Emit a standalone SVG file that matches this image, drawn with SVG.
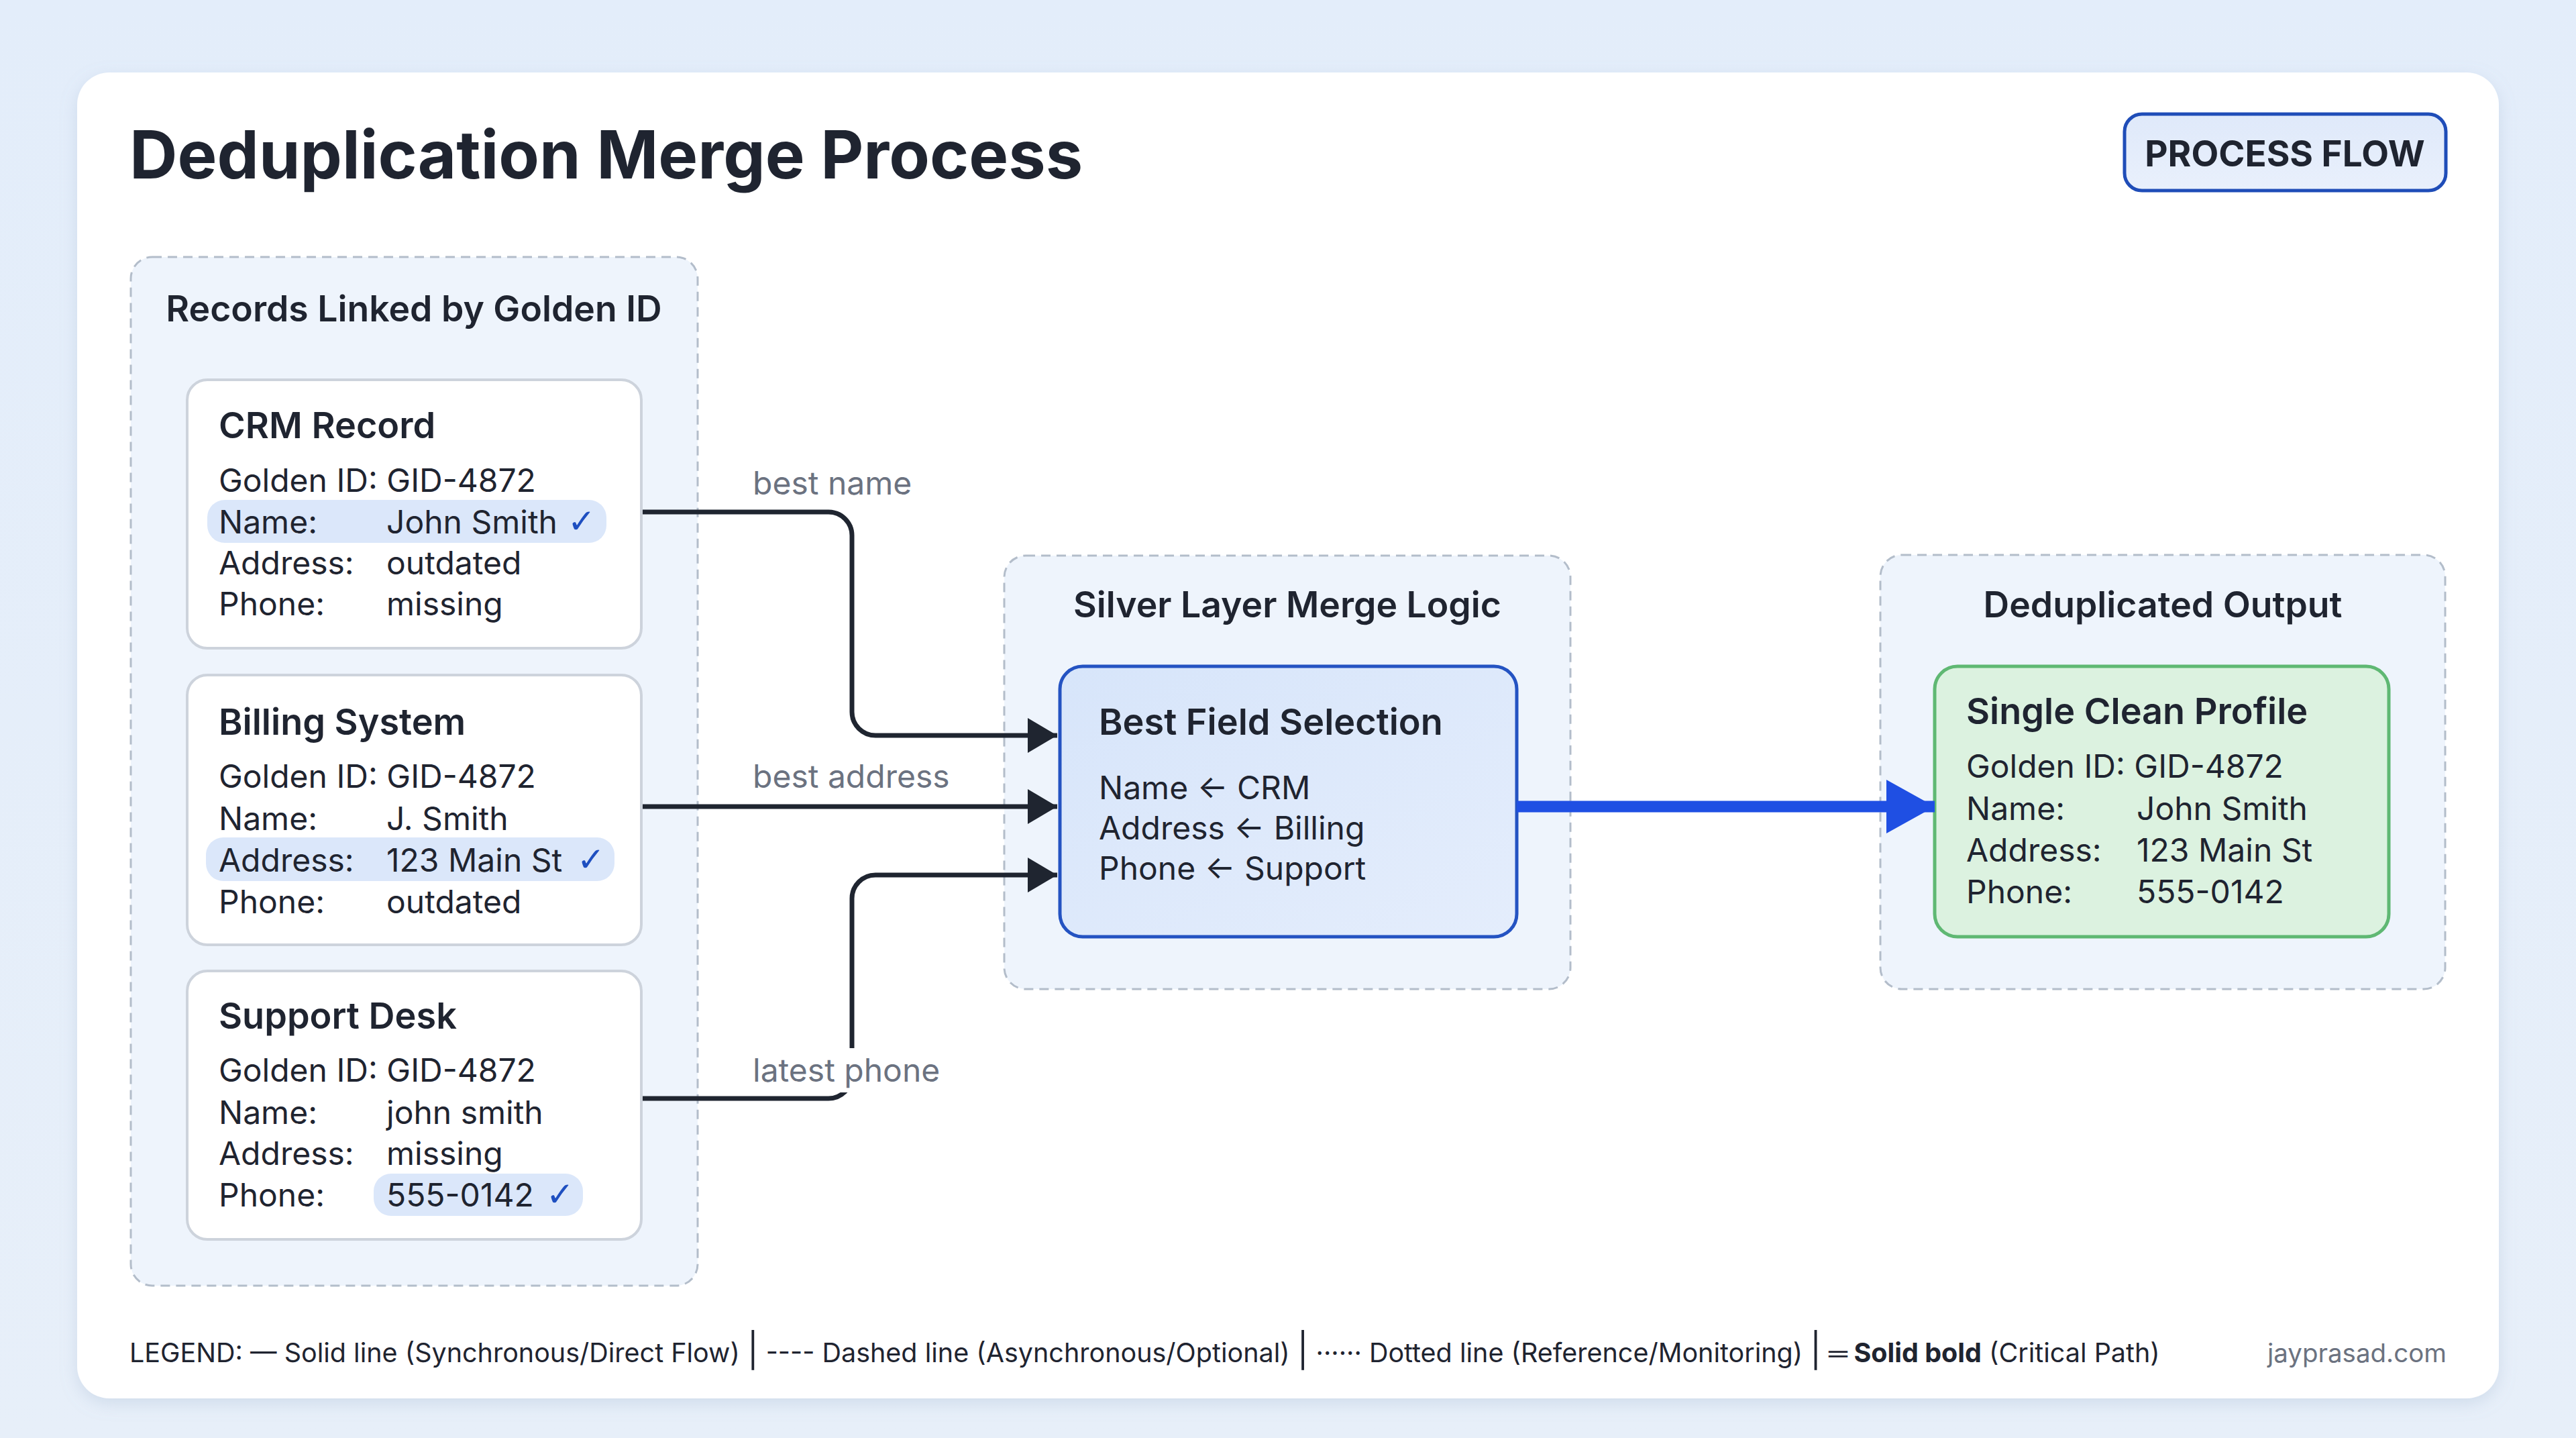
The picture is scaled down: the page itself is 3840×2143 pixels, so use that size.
<svg xmlns="http://www.w3.org/2000/svg" width="3840" height="2143" viewBox="0 0 3840 2143">
<defs>
<style>
text{font-family:Inter,"Noto Sans","Liberation Sans",sans-serif;fill:#1f2430}
.title{font-size:99px;font-weight:700}
.badge{font-size:53px;font-weight:700}
.grp{font-size:53.5px;font-weight:600}
.ct{font-size:54px;font-weight:600}
.tx{font-size:48px;font-weight:400}
.lbl{font-size:48px;fill:#6b7280}
.chk{font-family:"DejaVu Sans",sans-serif;font-size:50px;fill:#1e4fc0}
.leg{font-size:39.5px}
.group{fill:#eef4fc;stroke:#b3bdca;stroke-width:3;stroke-dasharray:14 9}
.card{fill:#ffffff;stroke:#cdd3dc;stroke-width:4}
.hl{fill:#dbe7fa}
.conn{fill:none;stroke:#1f2530;stroke-width:7}
</style>
<linearGradient id="bg" x1="0" y1="0" x2="0" y2="1"><stop offset="0" stop-color="#e3edfa"/><stop offset="1" stop-color="#e7eff9"/></linearGradient>
<linearGradient id="blueFill" x1="0" y1="0" x2="1" y2="1"><stop offset="0" stop-color="#d7e5fa"/><stop offset="1" stop-color="#e4edfc"/></linearGradient>
<linearGradient id="badgeFill" x1="0" y1="0" x2="0" y2="1"><stop offset="0" stop-color="#dfe9fa"/><stop offset="1" stop-color="#e9f0fc"/></linearGradient>
<filter id="sh" x="-5%" y="-5%" width="110%" height="110%"><feDropShadow dx="0" dy="8" stdDeviation="12" flood-color="#8aa0c0" flood-opacity="0.25"/></filter>
<marker id="ah" viewBox="0 0 44 52" refX="44" refY="26" markerWidth="44" markerHeight="52" markerUnits="userSpaceOnUse" orient="auto"><path d="M0,0 L44,26 L0,52 Z" fill="#1f2530"/></marker>
<marker id="ahb" viewBox="0 0 72 80" refX="72" refY="40" markerWidth="72" markerHeight="80" markerUnits="userSpaceOnUse" orient="auto"><path d="M0,0 L72,40 L0,80 Z" fill="#1f4fe3"/></marker>
</defs>
<rect width="3840" height="2143" fill="url(#bg)"/>
<rect x="115" y="108" width="3610" height="1976" rx="48" fill="#ffffff" filter="url(#sh)"/>
<text class="title" x="193" y="266">Deduplication Merge Process</text>
<g id="badge">
<rect x="3167" y="170" width="479" height="114" rx="26" fill="url(#badgeFill)" stroke="#1f4db8" stroke-width="5"/>
<text class="badge" x="3406" y="248" text-anchor="middle">PROCESS FLOW</text>
</g>
<g id="records-group">
<rect class="group" x="195" y="383" width="845" height="1533" rx="32"/>
<text class="grp" x="617" y="479" text-anchor="middle">Records Linked by Golden ID</text>
</g>
<g id="crm-record">
<rect class="card" x="279" y="566" width="677" height="400" rx="30"/>
<rect class="hl" x="309" y="745" width="595" height="64" rx="26"/>
<text class="ct" x="326" y="653">CRM Record</text>
<text class="tx" x="326" y="733">Golden ID: GID-4872</text>
<text class="tx" x="326" y="795">Name:</text><text class="tx" x="576" y="795">John Smith</text><text class="chk" x="846" y="794">✓</text>
<text class="tx" x="326" y="856">Address:</text><text class="tx" x="576" y="856">outdated</text>
<text class="tx" x="326" y="917">Phone:</text><text class="tx" x="576" y="917">missing</text>
</g>
<g id="billing-system">
<rect class="card" x="279" y="1006" width="677" height="402" rx="30"/>
<rect class="hl" x="307" y="1248" width="609" height="65" rx="26"/>
<text class="ct" x="326" y="1095">Billing System</text>
<text class="tx" x="326" y="1174">Golden ID: GID-4872</text>
<text class="tx" x="326" y="1237">Name:</text><text class="tx" x="576" y="1237">J. Smith</text>
<text class="tx" x="326" y="1299">Address:</text><text class="tx" x="576" y="1299">123 Main St</text><text class="chk" x="860" y="1298">✓</text>
<text class="tx" x="326" y="1361">Phone:</text><text class="tx" x="576" y="1361">outdated</text>
</g>
<g id="support-desk">
<rect class="card" x="279" y="1447" width="677" height="400" rx="30"/>
<rect class="hl" x="557" y="1749" width="312" height="63" rx="26"/>
<text class="ct" x="326" y="1533">Support Desk</text>
<text class="tx" x="326" y="1612">Golden ID: GID-4872</text>
<text class="tx" x="326" y="1675">Name:</text><text class="tx" x="576" y="1675">john smith</text>
<text class="tx" x="326" y="1736">Address:</text><text class="tx" x="576" y="1736">missing</text>
<text class="tx" x="326" y="1798">Phone:</text><text class="tx" x="576" y="1798">555-0142</text><text class="chk" x="814" y="1797">✓</text>
</g>
<g id="silver-group">
<rect class="group" x="1497" y="828" width="844" height="646" rx="32"/>
<text class="grp" x="1919" y="920" text-anchor="middle">Silver Layer Merge Logic</text>
</g>
<g id="best-field-selection">
<rect x="1580" y="993" width="681" height="403" rx="34" fill="url(#blueFill)" stroke="#2453c2" stroke-width="5"/>
<text class="ct" x="1638" y="1095">Best Field Selection</text>
<text class="tx" x="1638" y="1191">Name ← CRM</text>
<text class="tx" x="1638" y="1251">Address ← Billing</text>
<text class="tx" x="1638" y="1311">Phone ← Support</text>
</g>
<g id="output-group">
<rect class="group" x="2803" y="827" width="842" height="647" rx="32"/>
<text class="grp" x="3224" y="920" text-anchor="middle">Deduplicated Output</text>
</g>
<g id="single-clean-profile">
<rect x="2884" y="993" width="677" height="403" rx="34" fill="#dcf2e0" stroke="#5fb873" stroke-width="5"/>
<text class="ct" x="2931" y="1079">Single Clean Profile</text>
<text class="tx" x="2931" y="1159">Golden ID: GID-4872</text>
<text class="tx" x="2931" y="1222">Name:</text><text class="tx" x="3185" y="1222">John Smith</text>
<text class="tx" x="2931" y="1284">Address:</text><text class="tx" x="3185" y="1284">123 Main St</text>
<text class="tx" x="2931" y="1346">Phone:</text><text class="tx" x="3185" y="1346">555-0142</text>
</g>
<g id="connectors">
<path class="conn" d="M958,763 H1235 A35,35 0 0 1 1270,798 V1061 A35,35 0 0 0 1305,1096 H1576" marker-end="url(#ah)"/>
<path class="conn" d="M958,1202 H1576" marker-end="url(#ah)"/>
<path class="conn" d="M958,1637 H1235 A35,35 0 0 0 1270,1602 V1339 A35,35 0 0 1 1305,1304 H1576" marker-end="url(#ah)"/>
<path d="M2261,1202 H2884" fill="none" stroke="#1f4fe3" stroke-width="17" marker-end="url(#ahb)"/>
<text class="lbl" x="1122" y="737">best name</text>
<text class="lbl" x="1122" y="1174">best address</text>
<rect x="1112" y="1562" width="304" height="66" fill="#ffffff"/>
<text class="lbl" x="1122" y="1612">latest phone</text>
</g>
<g id="legend">
<text class="leg" x="193" y="2030">LEGEND: — Solid line (Synchronous/Direct Flow) <tspan font-size="50">|</tspan> ---- Dashed line (Asynchronous/Optional) <tspan font-size="50">|</tspan> ······ Dotted line (Reference/Monitoring) <tspan font-size="50">|</tspan> <tspan font-weight="700">═ Solid bold</tspan> (Critical Path)</text>
<text x="3647" y="2030" text-anchor="end" style="fill:#6b7280;font-size:38.5px">jayprasad.com</text>
</g>
</svg>
